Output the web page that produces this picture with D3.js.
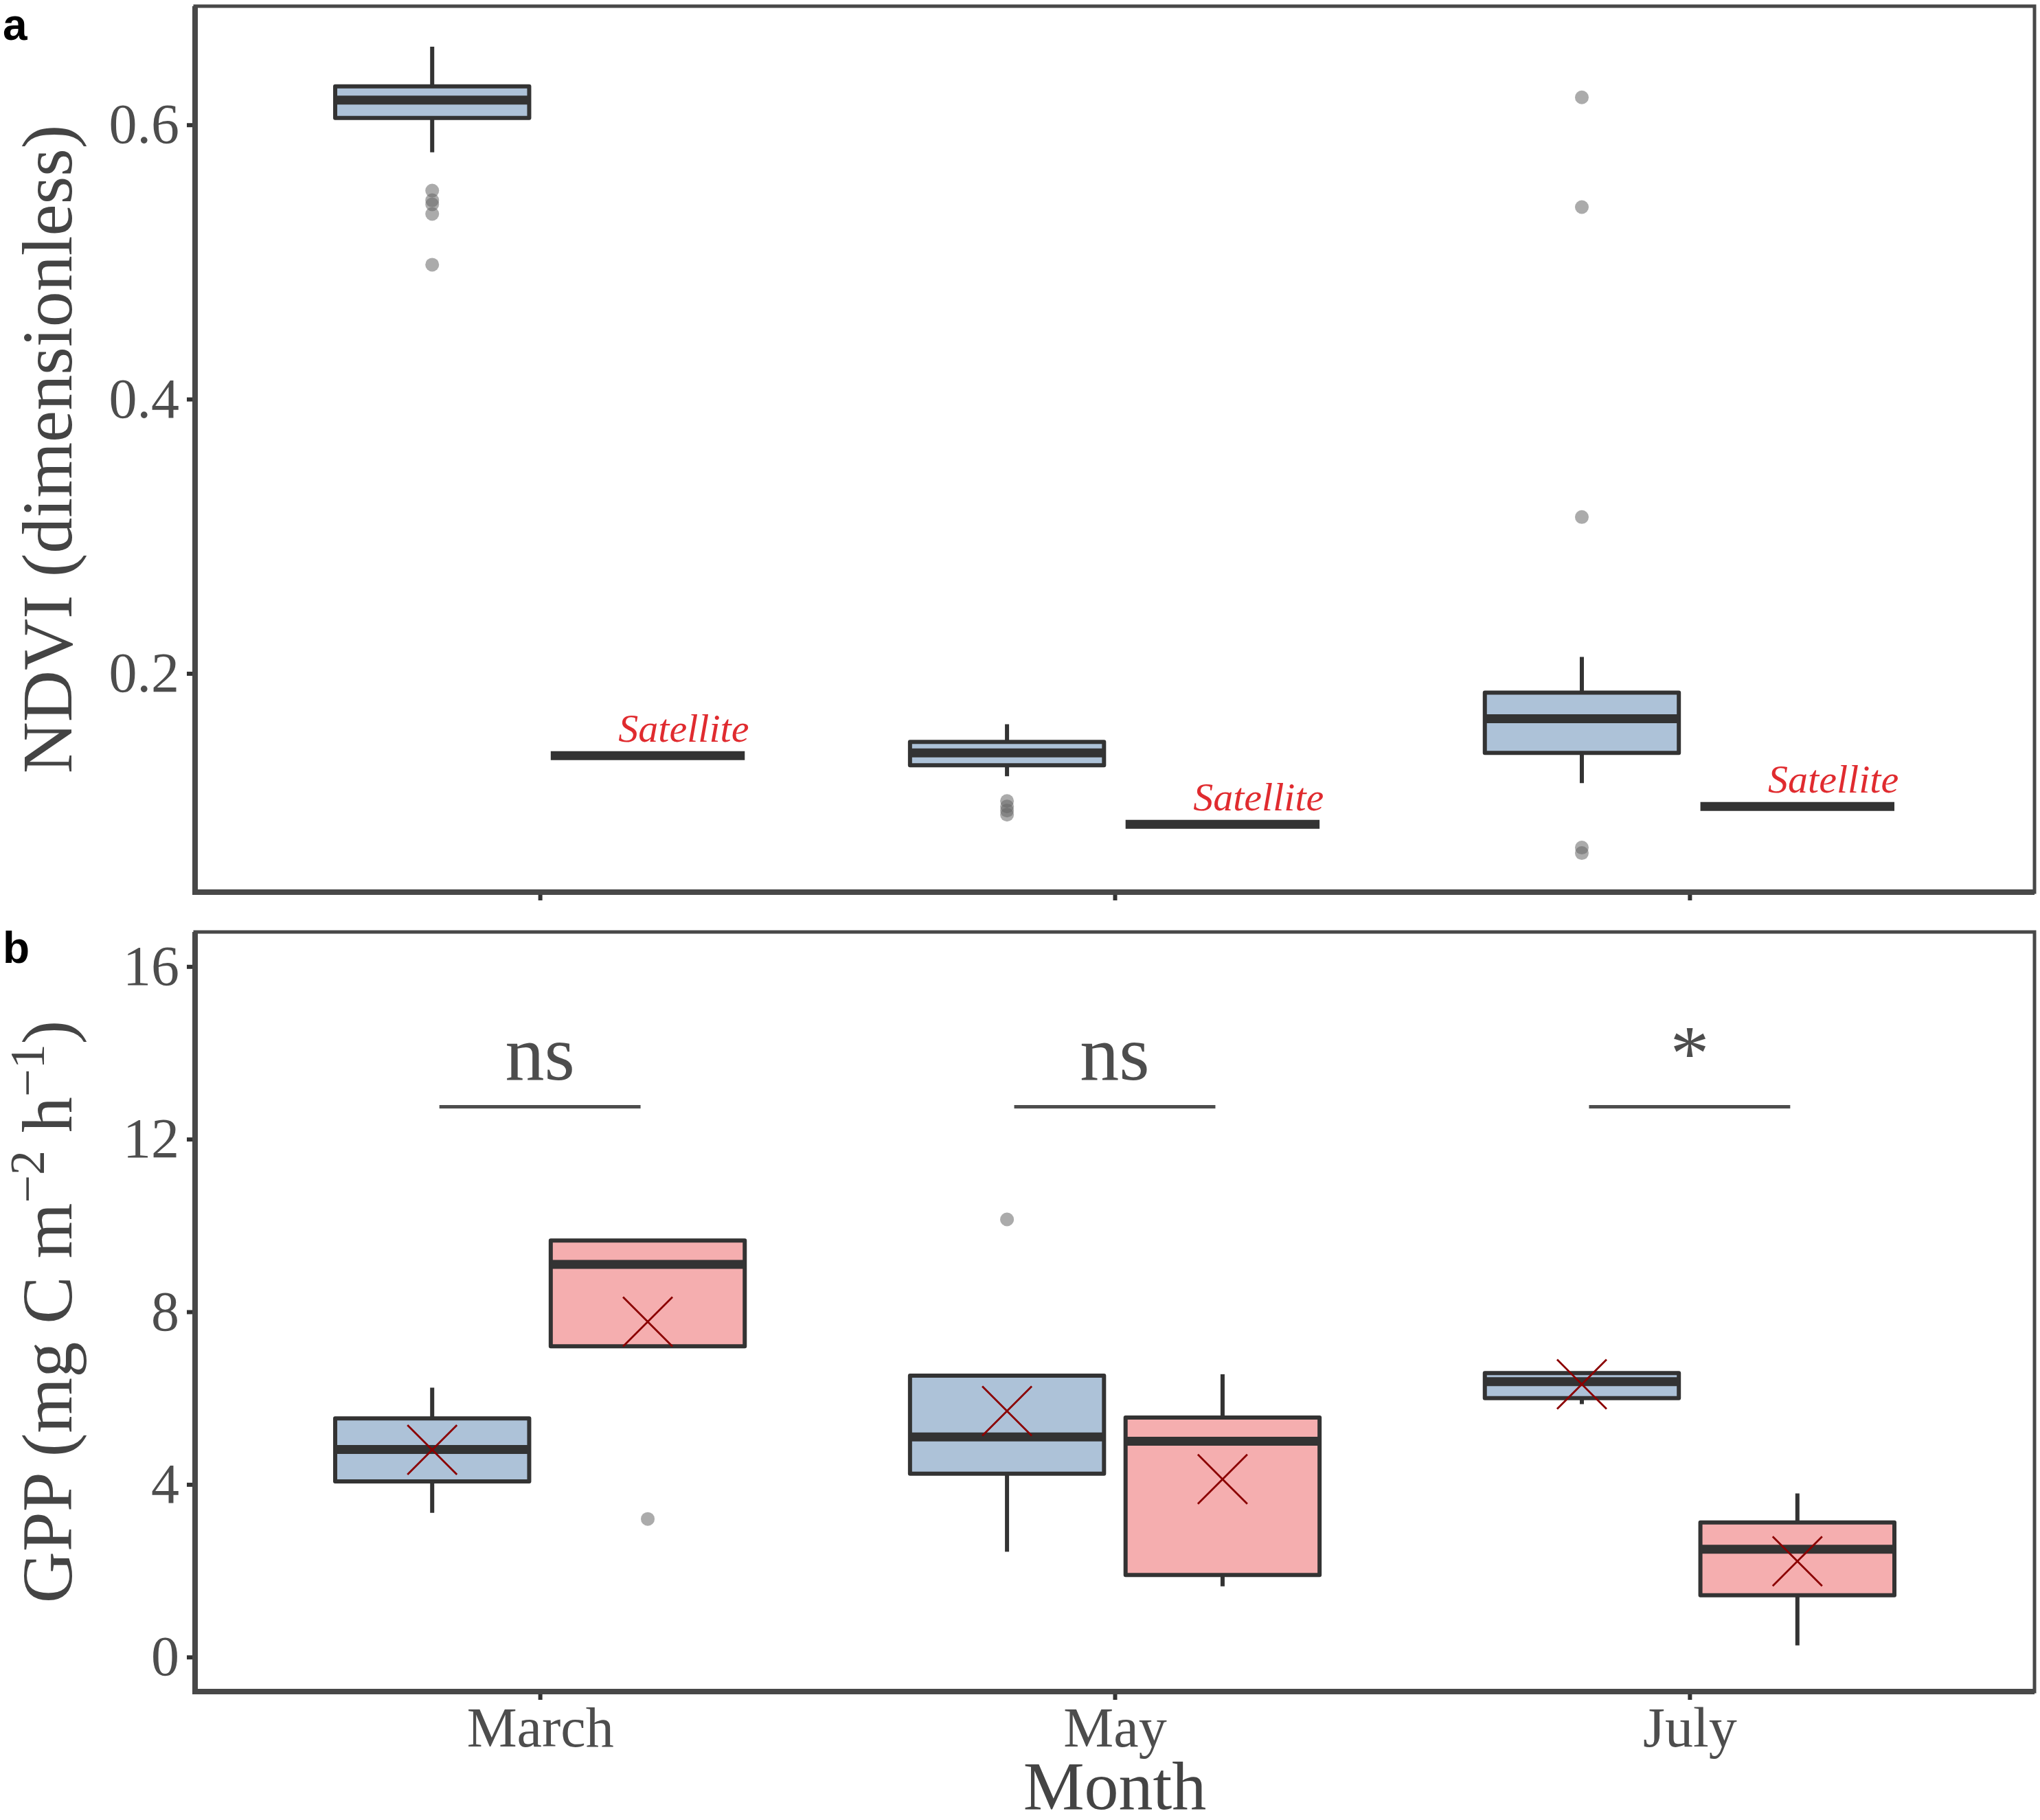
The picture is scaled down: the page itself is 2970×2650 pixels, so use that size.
<!DOCTYPE html>
<html>
<head>
<meta charset="utf-8">
<script src="https://d3js.org/d3.v7.min.js"></script>
<style>
body{margin:0;background:#fff;}
text{font-family:"Liberation Serif","DejaVu Serif",serif;}
text.panel{font-family:"Liberation Sans","DejaVu Sans",sans-serif;font-weight:bold;}
</style>
</head>
<body>
<div id="chart"></div>
<script>
// ---- data ----
var months=["March","May","July"];
var groups=["field","satellite"];
var groupColor={field:"#adc2d8",satellite:"#f5aeaf"};

// panel a (NDVI): month, group, lower whisker, q1, median, q3, upper whisker
var ndviBoxes=[
	["March","field",0.580,0.605,0.618,0.628,0.657],
	["March","satellite",0.140,0.140,0.140,0.140,0.140],
	["May","field",0.125,0.133,0.142,0.150,0.163],
	["May","satellite",0.090,0.090,0.090,0.090,0.090],
	["July","field",0.120,0.142,0.167,0.186,0.212],
	["July","satellite",0.103,0.103,0.103,0.103,0.103]
];
var ndviOutliers=[
	["March","field",0.552],["March","field",0.545],["March","field",0.542],["March","field",0.535],["March","field",0.498],
	["May","field",0.107],["May","field",0.103],["May","field",0.100],["May","field",0.097],
	["July","field",0.620],["July","field",0.540],["July","field",0.314],["July","field",0.073],["July","field",0.069]
];
var ndviTicks=[0.2,0.4,0.6];
var ndviDomain=[0.0405,0.6865];

// panel b (GPP)
var gppBoxes=[
	["March","field",3.34,4.07,4.81,5.53,6.24],
	["March","satellite",7.20,7.20,9.10,9.65,9.65],
	["May","field",2.44,4.25,5.10,6.52,6.52],
	["May","satellite",1.64,1.90,5.00,5.55,6.55],
	["July","field",5.86,6.00,6.38,6.58,6.58],
	["July","satellite",0.27,1.43,2.50,3.12,3.79]
];
var gppMeans=[
	["March","field",4.80],["March","satellite",7.77],
	["May","field",5.70],["May","satellite",4.12],
	["July","field",6.32],["July","satellite",2.22]
];
var gppOutliers=[["March","satellite",3.20],["May","field",10.14]];
var gppTicks=[0,4,8,12,16];
var gppDomain=[-0.8,16.8];
var sigLabels=["ns","ns","*"];
var sigLevel=12.75;

// ---- layout ----
var width=2970,height=2650;
var left=284,right=2962;
var aTop=9,aBottom=1299,bTop=1357,bBottom=2463;
var dodge={field:-0.1875,satellite:0.1875};
var boxw=0.3375;
var ink="#333333",axisInk="#484848",labInk="#4d4d4d";

var svg=d3.select("#chart").append("svg")
	.attr("width",width).attr("height",height);

var xu=d3.scaleLinear().domain([-0.6,2.6]).range([left,right]);
var xm=d3.scalePoint().domain(months).range([xu(0),xu(2)]);
function cx(m,g){return xu(months.indexOf(m)+dodge[g]);}
var bw=xu(boxw)-xu(0);

function drawPanel(top,bottom,domain,ticks,fmt,xlabels){
	var y=d3.scaleLinear().domain(domain).range([bottom,top]);
	var g=svg.append("g");
	var ya=g.append("g").attr("transform","translate("+left+",0)")
		.call(d3.axisLeft(y).tickValues(ticks).tickSize(12).tickPadding(11).tickFormat(fmt));
	var xa=g.append("g").attr("transform","translate(0,"+bottom+")")
		.call(d3.axisBottom(xm).tickSize(12).tickPadding(10).tickFormat(xlabels?null:""));
	[ya,xa].forEach(function(a){
		a.select(".domain").remove();
		a.selectAll(".tick line").attr("stroke",ink).attr("stroke-width",6);
		a.selectAll(".tick text").attr("fill",labInk).attr("font-size",82)
			.style("font-family","'Liberation Serif',serif");
	});
	g.append("rect").attr("x",left).attr("y",top)
		.attr("width",right-left).attr("height",bottom-top)
		.attr("fill","none").attr("stroke",axisInk).attr("stroke-width",5);
	g.append("line").attr("x1",left).attr("x2",left).attr("y1",top).attr("y2",bottom+4)
		.attr("stroke",axisInk).attr("stroke-width",8);
	g.append("line").attr("x1",left-4).attr("x2",right).attr("y1",bottom).attr("y2",bottom)
		.attr("stroke",axisInk).attr("stroke-width",8);
	return y;
}

function drawBoxes(y,boxes,outliers){
	var g=svg.append("g");
	g.selectAll(".whisk").data(boxes).enter().append("path")
		.attr("class","whisk")
		.attr("d",function(d){
			var x=cx(d[0],d[1]);
			return "M"+x+","+y(d[6])+"V"+y(d[5])+"M"+x+","+y(d[3])+"V"+y(d[2]);
		})
		.attr("stroke",ink).attr("stroke-width",6).attr("fill","none");
	g.selectAll(".box").data(boxes).enter().append("rect")
		.attr("class","box")
		.attr("x",function(d){return cx(d[0],d[1])-bw/2;})
		.attr("y",function(d){return y(d[5]);})
		.attr("width",bw)
		.attr("height",function(d){return y(d[3])-y(d[5]);})
		.attr("fill",function(d){return groupColor[d[1]];})
		.attr("stroke",ink).attr("stroke-width",6).attr("stroke-linejoin","round");
	g.selectAll(".med").data(boxes).enter().append("line")
		.attr("class","med")
		.attr("x1",function(d){return cx(d[0],d[1])-bw/2;})
		.attr("x2",function(d){return cx(d[0],d[1])+bw/2;})
		.attr("y1",function(d){return y(d[4]);})
		.attr("y2",function(d){return y(d[4]);})
		.attr("stroke",ink).attr("stroke-width",13);
	g.selectAll(".out").data(outliers).enter().append("circle")
		.attr("class","out")
		.attr("cx",function(d){return cx(d[0],d[1]);})
		.attr("cy",function(d){return y(d[2]);})
		.attr("r",10)
		.attr("fill","#666").attr("fill-opacity",0.55);
	return g;
}

// ---- panel a ----
var ya=drawPanel(aTop,aBottom,ndviDomain,ndviTicks,d3.format(".1f"),false);
drawBoxes(ya,ndviBoxes,ndviOutliers);
svg.append("g").selectAll("text")
	.data(ndviBoxes.filter(function(d){return d[1]=="satellite";}))
	.enter().append("text")
	.attr("x",function(d){return xu(months.indexOf(d[0])+0.25);})
	.attr("y",function(d){return ya(d[4])-20;})
	.attr("text-anchor","middle")
	.attr("font-style","italic").attr("font-size",58)
	.attr("fill","#e02b2f")
	.text("Satellite");

// ---- panel b ----
var yb=drawPanel(bTop,bBottom,gppDomain,gppTicks,d3.format("d"),true);
drawBoxes(yb,gppBoxes,gppOutliers);
svg.append("g").selectAll("path")
	.data(gppMeans).enter().append("path")
	.attr("transform",function(d){return "translate("+cx(d[0],d[1])+","+yb(d[2])+")";})
	.attr("d","M-36,-36L36,36M-36,36L36,-36")
	.attr("stroke","#8b0000").attr("stroke-width",2.8).attr("fill","none");
var sig=svg.append("g");
sig.selectAll("line").data(months).enter().append("line")
	.attr("x1",function(d,i){return xu(i-0.175);})
	.attr("x2",function(d,i){return xu(i+0.175);})
	.attr("y1",yb(sigLevel)).attr("y2",yb(sigLevel))
	.attr("stroke",labInk).attr("stroke-width",5);
sig.selectAll("text").data(months).enter().append("text")
	.attr("x",function(d){return xm(d);})
	.attr("y",yb(sigLevel)-40)
	.attr("text-anchor","middle").attr("font-size",114)
	.attr("fill",labInk)
	.text(function(d,i){return sigLabels[i];});

// ---- titles ----
svg.append("text")
	.attr("transform","translate(104,"+((aTop+aBottom)/2)+") rotate(-90)")
	.attr("text-anchor","middle").attr("font-size",104).attr("fill","#444")
	.text("NDVI (dimensionless)");
var gt=svg.append("text")
	.attr("transform","translate(104,"+((bTop+bBottom)/2)+") rotate(-90)")
	.attr("text-anchor","middle").attr("font-size",104).attr("fill","#444");
gt.append("tspan").text("GPP (mg C m");
gt.append("tspan").attr("font-size",72).attr("dy",-40).text("\u22122");
gt.append("tspan").attr("dy",40).text(" h");
gt.append("tspan").attr("font-size",72).attr("dy",-40).text("\u22121");
gt.append("tspan").attr("dy",40).text(")");
svg.append("text")
	.attr("x",(left+right)/2).attr("y",2634)
	.attr("text-anchor","middle").attr("font-size",100).attr("fill","#444")
	.text("Month");

svg.append("text").attr("class","panel").attr("x",4).attr("y",58)
	.attr("font-size",64).attr("fill","#000")
	.text("a");
svg.append("text").attr("class","panel").attr("x",4).attr("y",1402)
	.attr("font-size",64).attr("fill","#000")
	.text("b");
</script>
</body>
</html>
